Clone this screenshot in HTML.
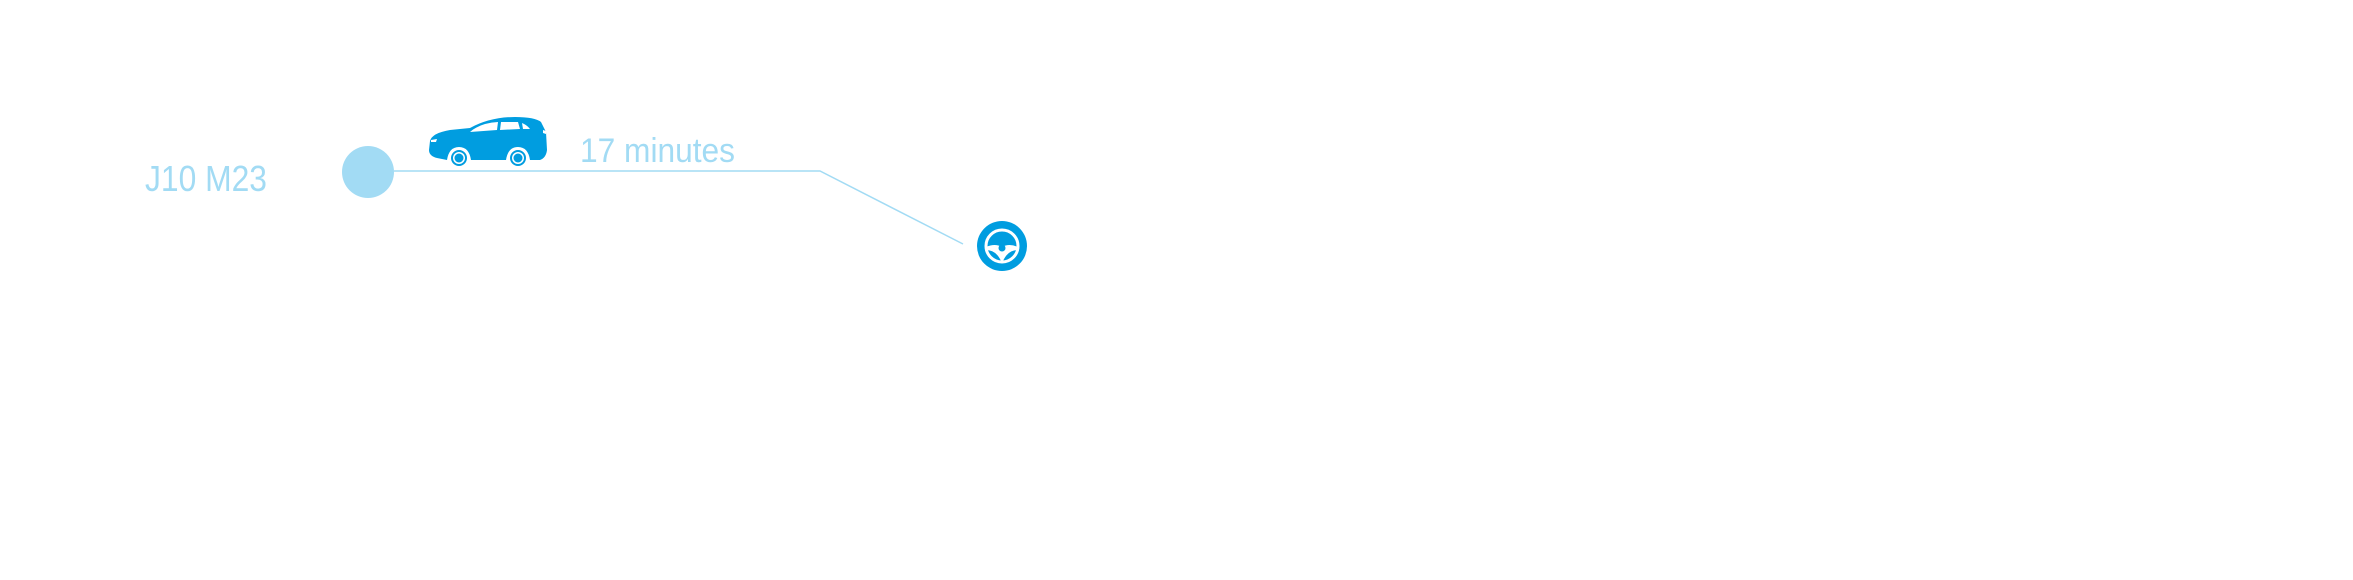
<!DOCTYPE html>
<html><head><meta charset="utf-8"><style>
html,body{margin:0;padding:0;background:#fff;}
svg{display:block;}
text{font-family:"Liberation Sans Narrow","Liberation Sans",sans-serif;font-weight:300;}
</style></head><body>
<svg width="2353" height="580" viewBox="0 0 2353 580" xmlns="http://www.w3.org/2000/svg">
<rect width="2353" height="580" fill="#fff"/>
<text x="145" y="191" font-size="36" fill="#a2dbf4" textLength="122" lengthAdjust="spacingAndGlyphs">J10 M23</text>
<circle cx="368" cy="172" r="26" fill="#a2dbf4"/>
<polyline points="394,171 820,171 963,244" fill="none" stroke="#a2dbf4" stroke-width="1.5"/>
<text x="580" y="162" font-size="34" fill="#a2dbf4" textLength="155" lengthAdjust="spacingAndGlyphs">17 minutes</text>
<g fill="#009de0">
<path d="M430,141 Q432,133 450,130 L470,128 Q490,117 515,117 Q535,117 541,122 L546,132 L547,150 Q546,158 540,160 L530,160 Q528,147 518,147 Q508,147 506,160 L471,160 Q469,147 459,147 Q449,147 447,160 L437,158 Q429,156 429,150 Z"/>
<circle cx="459" cy="158" r="8"/><circle cx="518" cy="158" r="8"/>
</g>
<g fill="#fff">
<circle cx="459" cy="158" r="6"/><circle cx="518" cy="158" r="6"/>
<circle cx="459" cy="158" r="4.5" fill="#009de0"/><circle cx="518" cy="158" r="4.5" fill="#009de0"/>
<path d="M470,132 Q480,123 498,122 L497,130 Z"/>
<path d="M501,122 L518,122 L520,129 L500,130 Z"/>
<path d="M522,123 Q527,125 530,129 L523,129 Z"/>
<path d="M431,140 L437,139 L436,142 L431,142 Z"/>
<path d="M543,130 L546,131 L546,134 L543,133 Z"/>
</g>
<circle cx="1002" cy="246" r="25" fill="#009de0"/>
<circle cx="1002" cy="246" r="16" fill="none" stroke="#fff" stroke-width="3"/>
<path d="M986,247 Q995,243 1002,247 Q1009,243 1018,247 L1018,250 Q1008,250 1003,261 L1001,261 Q996,250 986,250 Z" fill="#fff"/>
<circle cx="1002" cy="248" r="3.5" fill="#009de0"/>
</svg>
</body></html>
